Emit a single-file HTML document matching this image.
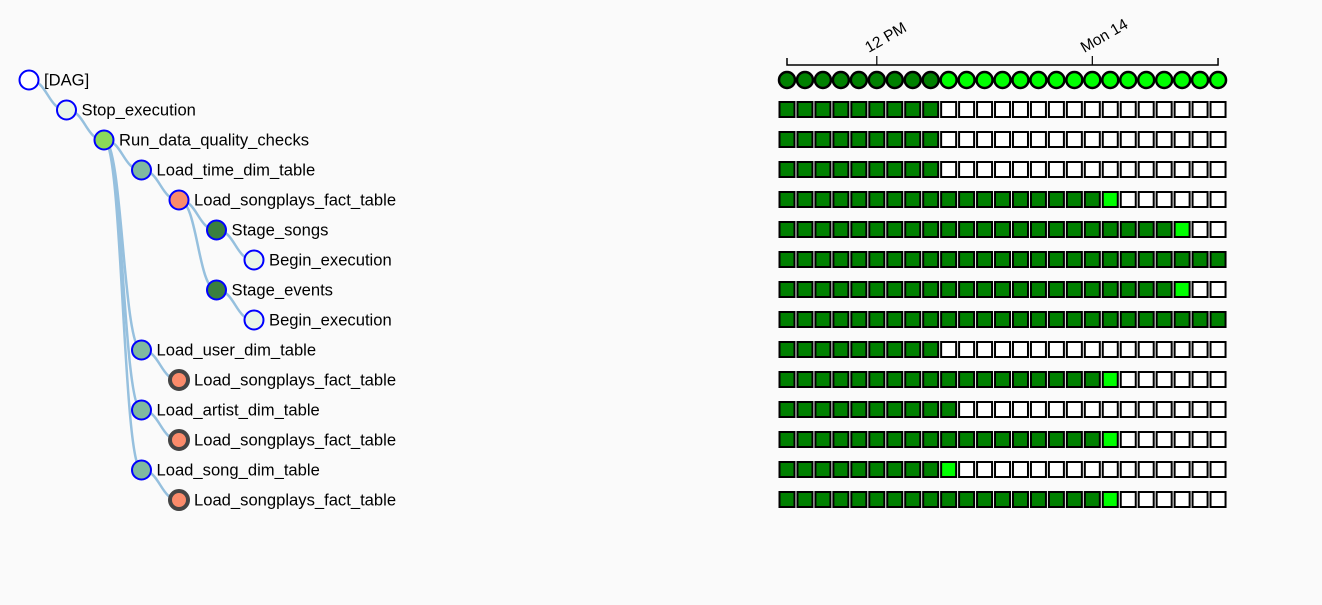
<!DOCTYPE html>
<html><head><meta charset="utf-8"><style>
body{margin:0;background:#fafafa;width:1322px;height:600px;overflow:hidden}
text{font-family:"Liberation Sans",Arial,sans-serif}
</style></head><body>
<svg width="1322" height="600" xmlns="http://www.w3.org/2000/svg">
<g id="links"></g>
<g id="nodes"></g>
<g id="axis"></g>
<g id="grid"></g>
</svg>
<script>
const taskNames=["[DAG]","Stop_execution","Run_data_quality_checks","Load_time_dim_table","Load_songplays_fact_table","Stage_songs","Begin_execution","Stage_events","Begin_execution","Load_user_dim_table","Load_songplays_fact_table","Load_artist_dim_table","Load_songplays_fact_table","Load_song_dim_table","Load_songplays_fact_table"];
const taskDepths=[0,1,2,3,4,5,6,5,6,3,4,3,4,3,4];
const taskParents=[-1,0,1,2,3,4,5,4,7,2,9,2,11,2,13];
const taskFills=["#ffffff","#e8f5e8","#8bd95a","#80b9a0","#fa8b6b","#3a7f3f","#e8f5e8","#3a7f3f","#e8f5e8","#80b9a0","#fa8b6b","#80b9a0","#fa8b6b","#80b9a0","#fa8b6b"];
const taskCollapsed=[0,0,0,0,0,0,0,0,0,0,1,0,1,0,1];
const successCounts=[9,9,9,9,18,22,25,22,25,9,18,10,18,9,18];
const runningCounts=[16,0,0,0,1,1,0,1,0,0,1,0,1,1,1];
const nRuns=25;
const tickLabels=["12 PM","Mon 14"];
const tickRuns=[5,17];

const NS="http://www.w3.org/2000/svg";
function mk(t,a,p){const e=document.createElementNS(NS,t);for(const k in a)e.setAttribute(k,a[k]);p.appendChild(e);return e;}
const nx=d=>29+d*37.5, ny=i=>80+i*30;
const gx=j=>787+j*17.96;
const L=document.getElementById('links'),N=document.getElementById('nodes'),A=document.getElementById('axis'),G=document.getElementById('grid');
taskNames.forEach((n,i)=>{
 const p=taskParents[i]; if(p<0)return;
 const sx=nx(taskDepths[p]),sy=ny(p),tx=nx(taskDepths[i]),ty=ny(i),m=(sx+tx)/2;
 const e=mk('path',{d:`M${sx},${sy}C${m},${sy} ${m},${ty} ${tx},${ty}`,fill:'none',stroke:'#96c0de','stroke-width':2.5},L);
 
 
});
taskNames.forEach((n,i)=>{
 const x=nx(taskDepths[i]),y=ny(i);
 const c=mk('circle',{cx:x,cy:y,r:taskCollapsed[i]?9:9.5,fill:taskFills[i],stroke:taskCollapsed[i]?'#444':'blue','stroke-width':taskCollapsed[i]?4:2},N);
 
 
 const t=mk('text',{x:x+15,y:y+5.5,'font-size':16.6,fill:'#000'},N);
 t.textContent=n;
 
 
});
mk('path',{d:`M${gx(0)},58V65H${gx(nRuns-1)}V58`,fill:'none',stroke:'#000','stroke-width':1.5},A);
tickLabels.forEach((l,k)=>{
 const x=gx(tickRuns[k]);
 mk('line',{x1:x,y1:56,x2:x,y2:65,stroke:'#000','stroke-width':1.2},A);
 const t=mk('text',{x:x-8,y:53,'font-size':15.5,fill:'#000',transform:`rotate(-30 ${x-8} 53)`},A);
 t.textContent=l;
 
 
});
for(let i=0;i<taskNames.length;i++){
 for(let j=0;j<nRuns;j++){
  const col=j<successCounts[i]?'#008000':(j<successCounts[i]+runningCounts[i]?'#00ff00':'#ffffff');
  let e;
  if(i===0) e=mk('circle',{cx:gx(j),cy:ny(i),r:8,fill:col,stroke:'#000','stroke-width':2.5},G);
  else e=mk('rect',{x:gx(j)-7.5,y:ny(i)-8,width:15,height:15,fill:col,stroke:'#000','stroke-width':2},G);
  
  
 }
}
</script>
</body></html>
